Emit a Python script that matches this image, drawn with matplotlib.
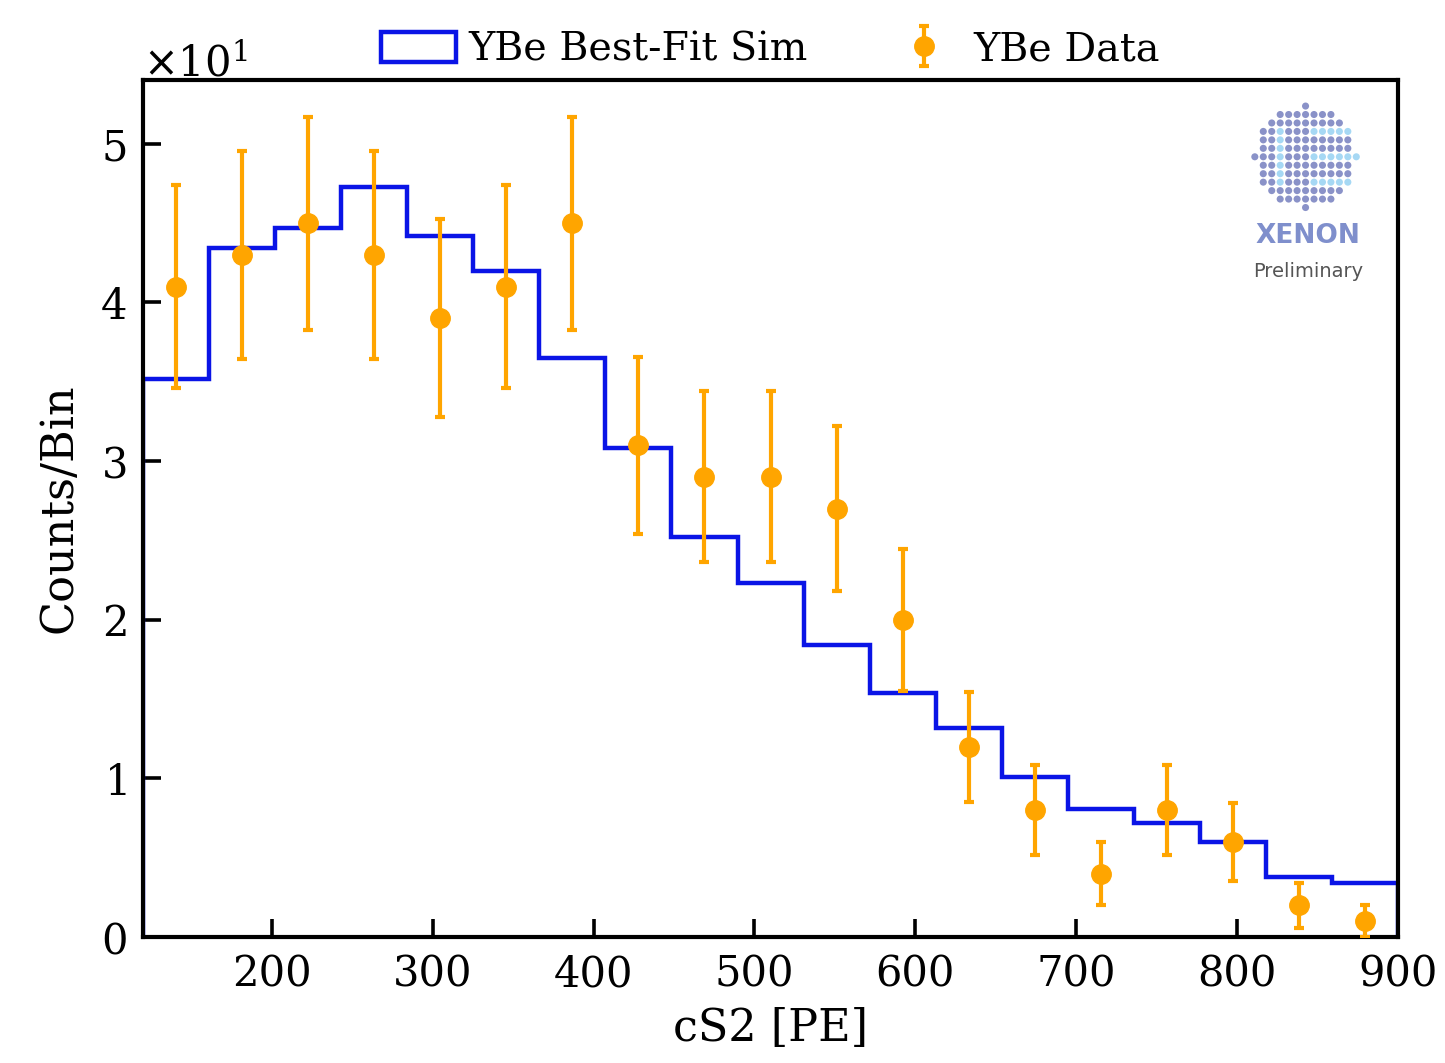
import numpy as np
import matplotlib
matplotlib.use("Agg")
import matplotlib.pyplot as plt
from matplotlib.ticker import ScalarFormatter, MultipleLocator

# ---- data ----
bin_edges = np.linspace(120, 900, 20)
sim_counts = [35.2, 43.4, 44.7, 47.3, 44.2, 42.0, 36.5, 30.8, 25.2, 22.3,
              18.4, 15.4, 13.2, 10.1, 8.1, 7.2, 6.0, 3.8, 3.4]
data_counts = [41, 43, 45, 43, 39, 41, 45, 31, 29, 29, 27, 20, 12, 8, 4, 8, 6, 2, 1]
data_errors = [6.4, 6.56, 6.71, 6.56, 6.24, 6.4, 6.71, 5.57, 5.39, 5.39,
               5.2, 4.47, 3.46, 2.83, 2.0, 2.83, 2.45, 1.41, 1.0]
x_ticks = [200, 300, 400, 500, 600, 700, 800, 900]

plt.rcParams['font.family'] = ['DejaVu Serif']
plt.rcParams['mathtext.fontset'] = 'dejavusans'

fig = plt.figure(figsize=(14.45, 10.63), dpi=100)
ax = fig.add_axes([0.099, 0.1185, 0.8685, 0.806])

centers = 0.5 * (bin_edges[:-1] + bin_edges[1:])
ax.hist(centers, bins=bin_edges, weights=sim_counts, histtype='step',
        color='#0a14e6', linewidth=3.2, label='YBe Best-Fit Sim', zorder=2)
ax.errorbar(centers, data_counts, yerr=data_errors, fmt='o', color='#FFA500',
            markersize=14, elinewidth=3, capsize=3.5, capthick=3,
            label='YBe Data', zorder=3)

ax.set_xlim(120, 900)
ax.set_ylim(0, 54)
ax.set_xticks(x_ticks)
ax.yaxis.set_major_locator(MultipleLocator(10))
fmt = ScalarFormatter(useMathText=True)
fmt.set_powerlimits((-1, 1))
ax.yaxis.set_major_formatter(fmt)
ax.yaxis.get_offset_text().set_fontsize(30)

ax.tick_params(direction='in', length=13, width=2.6, labelsize=30, pad=12)
for s in ax.spines.values():
    s.set_linewidth(3)

ax.set_xlabel('cS2 [PE]', fontsize=32, labelpad=8)
ax.set_ylabel('Counts/Bin', fontsize=32, labelpad=14)

ax.legend(loc='lower center', bbox_to_anchor=(0.5, 0.972), ncol=2, frameon=False,
          fontsize=28.5, handlelength=1.9, handleheight=0.8, handletextpad=0.3,
          columnspacing=2.0)

# ---- XENON logo approximation ----
lax = fig.add_axes([0.862, 0.80, 0.083, 0.105])
lax.set_xlim(-1.1, 1.1)
lax.set_ylim(-1.1, 1.1)
lax.set_aspect('equal')
lax.axis('off')
gx, gy = np.meshgrid(np.arange(-6, 7), np.arange(-6, 7))
gx = gx.ravel() / 6.0
gy = gy.ravel() / 6.0
mask = gx**2 + gy**2 <= 1.0
gx, gy = gx[mask], gy[mask]
light = ((np.abs(gy - 0.5) < 0.05) & (gx > 0)) | ((np.abs(gy + 0.5) < 0.05) & (gx > 0)) | \
        ((np.abs(gx + 0.5) < 0.05) & (np.abs(gy) < 0.6)) | ((np.abs(gy) < 0.05) & (gx > 0.1))
cols = np.where(light, '#a6d8f4', '#8a92c8')
lax.scatter(gx, gy, s=26, c=cols, linewidths=0)
fig.text(0.905, 0.778, 'XENON', ha='center', va='center', fontsize=19,
         fontweight='bold', family='DejaVu Sans', color='#7f8fcc')
fig.text(0.905, 0.745, 'Preliminary', ha='center', va='center', fontsize=14,
         family='DejaVu Sans', color='#555555')

fig.savefig('out.png', dpi=100)
